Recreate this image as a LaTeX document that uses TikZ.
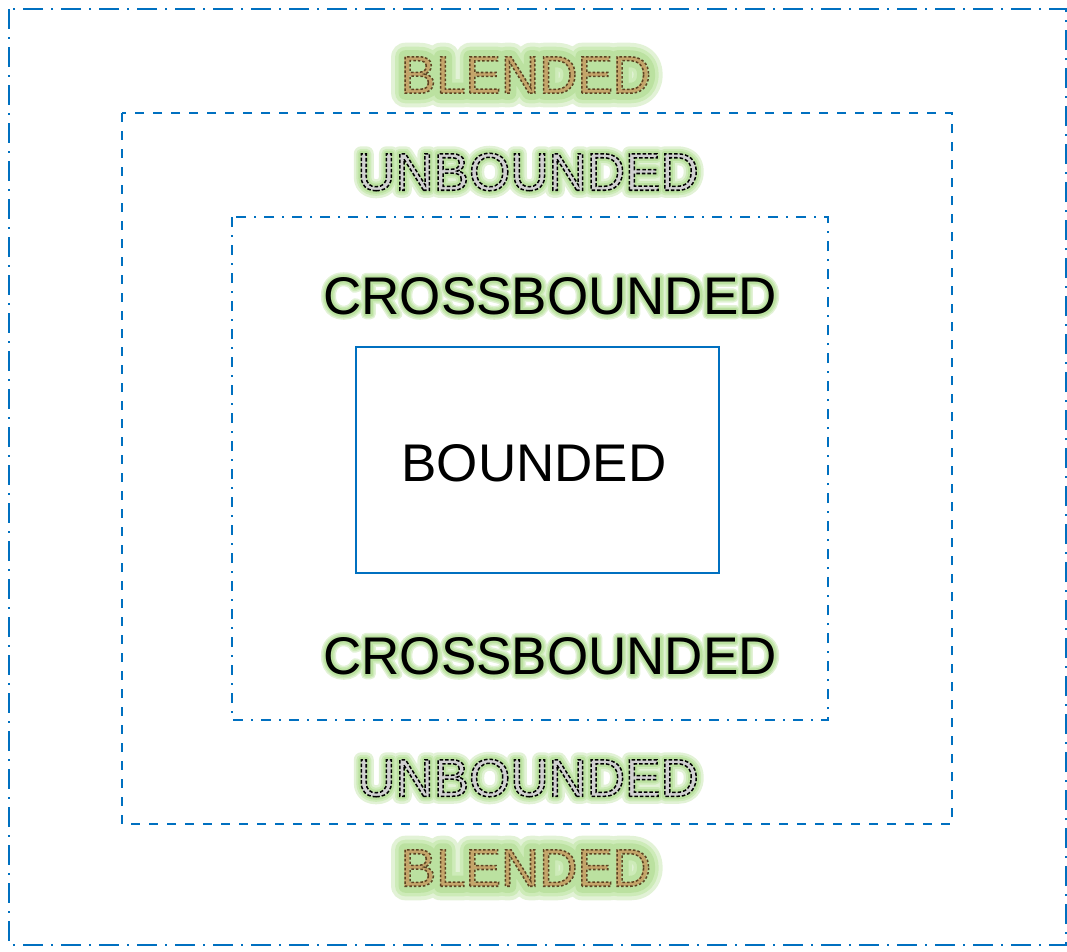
\documentclass[tikz,border=0pt]{standalone}
\usepackage{fontspec}
\setmainfont{Liberation Sans}
\definecolor{bl}{HTML}{0070C0}
\definecolor{glowA}{HTML}{E2F2D6}
\definecolor{glowB}{HTML}{CDEBB8}
\definecolor{glowC}{HTML}{BBE1A0}
\definecolor{blendfill}{HTML}{C4A56A}
\definecolor{blenddark}{HTML}{5C4322}
\definecolor{unbfill}{HTML}{D0D0D0}
% stroked text used as a glow layer: #1 width, #2 colour, #3 text
\newcommand\glw[3]{\makebox[0pt]{\color{#2}\special{pdf:literal direct 1 Tr #1 w 1 j 1 J}#3\special{pdf:literal direct 0 Tr 1 w 0 j 0 J}}}
\newcommand\blendtxt[1]{\makebox[0pt]{\color{blendfill}#1}\makebox[0pt]{\color{blenddark}\special{pdf:literal direct 1 Tr 1.5 w [2.5 2] 0 d}#1\special{pdf:literal direct 0 Tr 1 w [] 0 d}}}
\newcommand\unbtxt[1]{\makebox[0pt]{\color{unbfill}\special{pdf:literal direct 2 Tr 1.5 w [3.5 2] 0 d 0 0 0 RG}#1\special{pdf:literal direct 0 Tr 1 w [] 0 d}}}
\newcommand\crosstxt[1]{\makebox[0pt]{\color{black}#1}}
\tikzset{
  lab/.style={font=\fontsize{53}{60}\selectfont, inner sep=0pt, text=black},
  outerbox/.style={draw=bl, line width=2pt, dash pattern=on 20pt off 8pt on 2pt off 8pt},
  midbox/.style={draw=bl, line width=2pt, dash pattern=on 9pt off 9pt},
  innerbox/.style={draw=bl, line width=2pt, dash pattern=on 10pt off 8pt on 2pt off 8pt},
  solidbox/.style={draw=bl, line width=2pt},
}
\begin{document}
\begin{tikzpicture}[x=1pt,y=-1pt]
\useasboundingbox (0,0) rectangle (1067,951);
\draw[outerbox] (9,9) rectangle (1066,945);
\draw[midbox] (122,113) rectangle (952,824);
\draw[innerbox] (232,217) rectangle (828,720);
\node[solidbox, minimum width=363pt, minimum height=226pt] (bnd) at (537.5,460) {};
\node[lab] (btxt) at (534,463) {BOUNDED};
% blended
\node[lab] (bl1) at (526,75) {\glw{28}{glowA}{BLENDED}\glw{20}{glowB}{BLENDED}\glw{13}{glowC}{BLENDED}\blendtxt{BLENDED}};
\node[lab] (bl2) at (526,868) {\glw{28}{glowA}{BLENDED}\glw{20}{glowB}{BLENDED}\glw{13}{glowC}{BLENDED}\blendtxt{BLENDED}};
% unbounded
\node[lab] (ub1) at (528,172) {\glw{15}{glowA}{UNBOUNDED}\glw{10}{glowB}{UNBOUNDED}\glw{6}{glowC}{UNBOUNDED}\unbtxt{UNBOUNDED}};
\node[lab] (ub2) at (528,778) {\glw{15}{glowA}{UNBOUNDED}\glw{10}{glowB}{UNBOUNDED}\glw{6}{glowC}{UNBOUNDED}\unbtxt{UNBOUNDED}};
% crossbounded
\node[lab] (cb1) at (550,296) {\glw{10}{glowA}{CROSSBOUNDED}\glw{7}{glowB}{CROSSBOUNDED}\glw{4}{glowC}{CROSSBOUNDED}\crosstxt{CROSSBOUNDED}};
\node[lab] (cb2) at (550,656) {\glw{10}{glowA}{CROSSBOUNDED}\glw{7}{glowB}{CROSSBOUNDED}\glw{4}{glowC}{CROSSBOUNDED}\crosstxt{CROSSBOUNDED}};
\end{tikzpicture}
\end{document}
